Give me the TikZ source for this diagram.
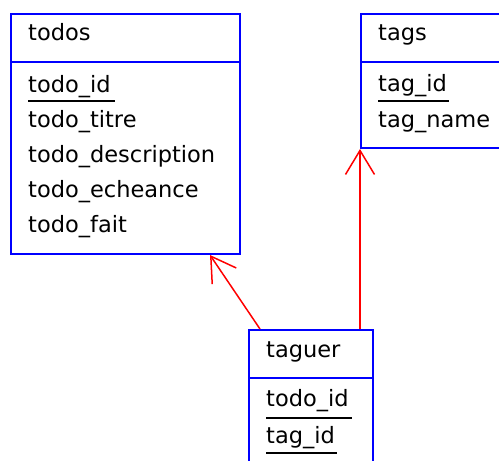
\documentclass[tikz,border=0pt]{standalone}
\usepackage{fontspec}
\setmainfont{DejaVu Sans}
\usetikzlibrary{arrows.meta}

\tikzset{
  table/.style={draw=blue, line width=2pt, inner sep=0, anchor=north west},
  sep/.style={blue, line width=2pt},
  field/.style={anchor=base west, inner sep=0, font=\fontsize{22.5}{27}\selectfont},
  key/.style={black, line width=2pt},
  fk/.style={red, line width=1.5pt, -{Straight Barb[length=24pt, width=29pt, line width=1.5pt]}}
}

\begin{document}
\begin{tikzpicture}[x=1pt, y=-1pt]
\clip (0, 0) rectangle (499, 461);
\fill[white] (0, 0) rectangle (499, 461);

% tables
\node[table, minimum width=229, minimum height=240] (todos) at (10, 13) {};
\node[table, minimum width=200, minimum height=134] (tags) at (360, 13) {};
\node[table, minimum width=124, minimum height=160] (taguer) at (248, 329) {};

\draw[sep] (todos.west |- 0, 62) -- (todos.east |- 0, 62);
\draw[sep] (tags.west |- 0, 62) -- (tags.east |- 0, 62);
\draw[sep] (taguer.west |- 0, 378) -- (taguer.east |- 0, 378);

% todos
\node[field] (todosname) at (28, 40) {todos};
\node[field] (todoid) at (28, 92) {todo\_id};
\node[field] (todotitre) at (28, 127) {todo\_titre};
\node[field] (tododesc) at (28, 162) {todo\_description};
\node[field] (todoech) at (28, 197) {todo\_echeance};
\node[field] (todofait) at (28, 232) {todo\_fait};
\draw[key] (28, 101) -- (115, 101);

% tags
\node[field] (tagsname) at (378, 40) {tags};
\node[field] (tagid) at (378, 91) {tag\_id};
\node[field] (tagname) at (378, 127) {tag\_name};
\draw[key] (378, 101) -- (449, 101);

% taguer
\node[field] (taguername) at (266, 357) {taguer};
\node[field] (tgtodoid) at (266, 406) {todo\_id};
\node[field] (tgtagid) at (266, 443) {tag\_id};
\draw[key] (266, 418) -- (352, 418);
\draw[key] (266, 453) -- (337, 453);

% links
\draw[fk] ([xshift=12]taguer.north west) -- ([xshift=-31]todos.south east);
\draw[fk] ([xshift=112]taguer.north west) -- (tags.south west);

\end{tikzpicture}
\end{document}
